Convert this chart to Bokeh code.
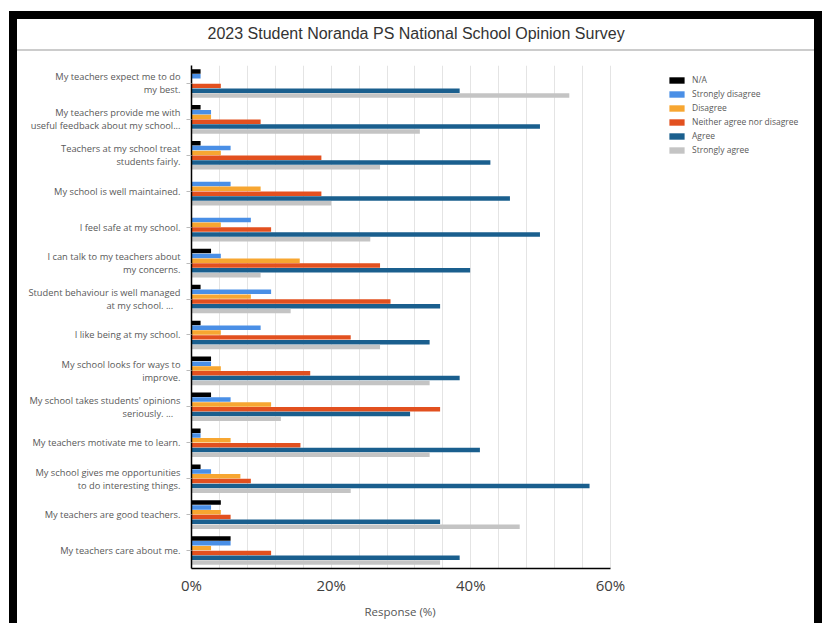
from bokeh.plotting import figure
from bokeh.models import (ColumnDataSource, FactorRange, Legend, LegendItem, FixedTicker,
                          PrintfTickFormatter, Range1d, Spacer, Title)
from bokeh.layouts import row, column
from bokeh.transform import dodge
from bokeh.embed import file_html
from bokeh.resources import INLINE

title_text = "2023 Student Noranda PS National School Opinion Survey"
x_label = "Response (%)"

categories = [
    "My teachers expect me to do\nmy best.",
    "My teachers provide me with\nuseful feedback about my school...",
    "Teachers at my school treat\nstudents fairly.",
    "My school is well maintained.",
    "I feel safe at my school.",
    "I can talk to my teachers about\nmy concerns.",
    "Student behaviour is well managed\nat my school.    ...",
    "I like being at my school.",
    "My school looks for ways to\nimprove.",
    "My school takes students' opinions\nseriously.    ...",
    "My teachers motivate me to learn.",
    "My school gives me opportunities\nto do interesting things.",
    "My teachers are good teachers.",
    "My teachers care about me.",
]

series_names = ["N/A", "Strongly disagree", "Disagree",
                "Neither agree nor disagree", "Agree", "Strongly agree"]

na       = [1.3, 1.3, 1.3, 0.0, 0.0, 2.8, 1.3, 1.3, 2.8, 2.8, 1.3, 1.3, 4.2, 5.6]
sd       = [1.3, 2.8, 5.6, 5.6, 8.5, 4.2, 11.4, 9.9, 2.8, 5.6, 1.3, 2.8, 2.8, 5.6]
dis      = [0.0, 2.8, 4.2, 9.9, 4.2, 15.5, 8.5, 4.2, 4.2, 11.4, 5.6, 7.0, 4.2, 2.8]
neither  = [4.2, 9.9, 18.6, 18.6, 11.4, 27.0, 28.5, 22.8, 17.0, 35.6, 15.6, 8.5, 5.6, 11.4]
agree    = [38.4, 49.9, 42.8, 45.6, 49.9, 39.9, 35.6, 34.1, 38.4, 31.3, 41.3, 57.0, 35.6, 38.4]
s_agree  = [54.1, 32.7, 27.0, 20.0, 25.6, 9.9, 14.2, 27.0, 34.1, 12.8, 34.1, 22.8, 47.0, 35.6]

x_ticks = [0, 20, 40, 60]
x_max = 60

colors = ["#000000", "#4a8fe6", "#f7a631", "#e2501f", "#1a5f8e", "#c4c4c4"]

source = ColumnDataSource(dict(cat=categories, na=na, sd=sd, dis=dis,
                               neither=neither, agree=agree, s_agree=s_agree))

MAIN_W = 797
LEFT_B = 174
RIGHT_B = 2
FRAME_W = MAIN_W - LEFT_B - RIGHT_B
AXIS_W = 419   # pixel length of the 0..60 % axis

# ---- title strip ----
t = figure(width=MAIN_W, height=30, toolbar_location=None, output_backend="svg",
           min_border_left=LEFT_B, min_border_right=RIGHT_B,
           min_border_top=24, min_border_bottom=0,
           x_axis_location=None, y_axis_location=None,
           x_range=Range1d(0, 1), y_range=Range1d(0, 1), title=title_text)
t.outline_line_color = None
t.grid.visible = False
t.title.text_font = "Liberation Sans"
t.title.text_font_size = "16px"
t.title.text_font_style = "normal"
t.title.text_color = "#333333"
t.title.align = "left"
t.title.offset = 16
t.title.standoff = 4

# ---- main chart ----
p = figure(width=MAIN_W, height=572,
           y_range=FactorRange(factors=categories[::-1]),
           x_range=Range1d(0, x_max * FRAME_W / AXIS_W),
           output_backend="svg", toolbar_location=None,
           min_border_left=LEFT_B, min_border_right=RIGHT_B,
           min_border_top=14, min_border_bottom=55)

step = 0.134
keys = ["na", "sd", "dis", "neither", "agree", "s_agree"]
items = []
for i, (k, name, c) in enumerate(zip(keys, series_names, colors)):
    off = (2.5 - i) * step
    r = p.hbar(y=dodge("cat", off, range=p.y_range), left=0, right=k,
               height=0.125, source=source, fill_color=c, line_color=None)
    items.append(LegendItem(label=name, renderers=[r]))

legend = Legend(items=items, location=(476, 413), orientation="vertical",
                padding=0, margin=0, spacing=3, glyph_width=19, glyph_height=8,
                label_height=10, label_standoff=6,
                label_text_font="Open Sans", label_text_font_size="8.5px",
                label_text_color="#595959", border_line_alpha=0,
                background_fill_alpha=0)
p.add_layout(legend, "center")

p.outline_line_color = None
p.background_fill_color = "white"
p.border_fill_color = "white"

p.ygrid.visible = False
p.xgrid.ticker = FixedTicker(ticks=list(range(0, x_max + 1, 4)))
p.xgrid.grid_line_color = "#e4e4e4"

p.xaxis.bounds = (0, x_max)
p.xaxis.ticker = FixedTicker(ticks=x_ticks)
p.xaxis.formatter = PrintfTickFormatter(format="%d%%")
p.xaxis.major_tick_out = 0
p.xaxis.major_tick_in = 0
p.xaxis.minor_tick_out = 0
p.xaxis.minor_tick_in = 0
p.xaxis.axis_line_color = "black"
p.xaxis.axis_line_width = 1.5
p.xaxis.major_label_standoff = 6
p.xaxis.major_label_text_font = "Open Sans"
p.xaxis.major_label_text_font_size = "15px"
p.xaxis.major_label_text_color = "#404040"

# axis title, centred under the 0-60 % part of the axis
p.add_layout(Title(text=x_label, align="left", offset=173, standoff=9,
                   text_font="Open Sans", text_font_size="11.5px",
                   text_font_style="normal", text_color="#555555"), "below")

p.yaxis.axis_line_color = "black"
p.yaxis.axis_line_width = 1.5
p.yaxis.major_tick_out = 5
p.yaxis.major_tick_in = 0
p.yaxis.major_tick_line_color = "#bbbbbb"
p.yaxis.major_label_standoff = 6
p.yaxis.major_label_text_font = "Open Sans"
p.yaxis.major_label_text_font_size = "9.3px"
p.yaxis.major_label_text_color = "#595959"
p.yaxis.major_label_text_line_height = 1.0

H = 612
inner = column(Spacer(width=MAIN_W, height=8, styles={"background-color": "black"}),
               t,
               Spacer(width=MAIN_W, height=2, styles={"background-color": "#cccccc"}),
               p)
framed = row(Spacer(width=9, height=H),
             Spacer(width=8, height=H, styles={"background-color": "black"}),
             inner,
             Spacer(width=8, height=H, styles={"background-color": "black"}))
layout = column(Spacer(width=822, height=11), framed)

open("out.html", "w").write(file_html(layout, INLINE))
